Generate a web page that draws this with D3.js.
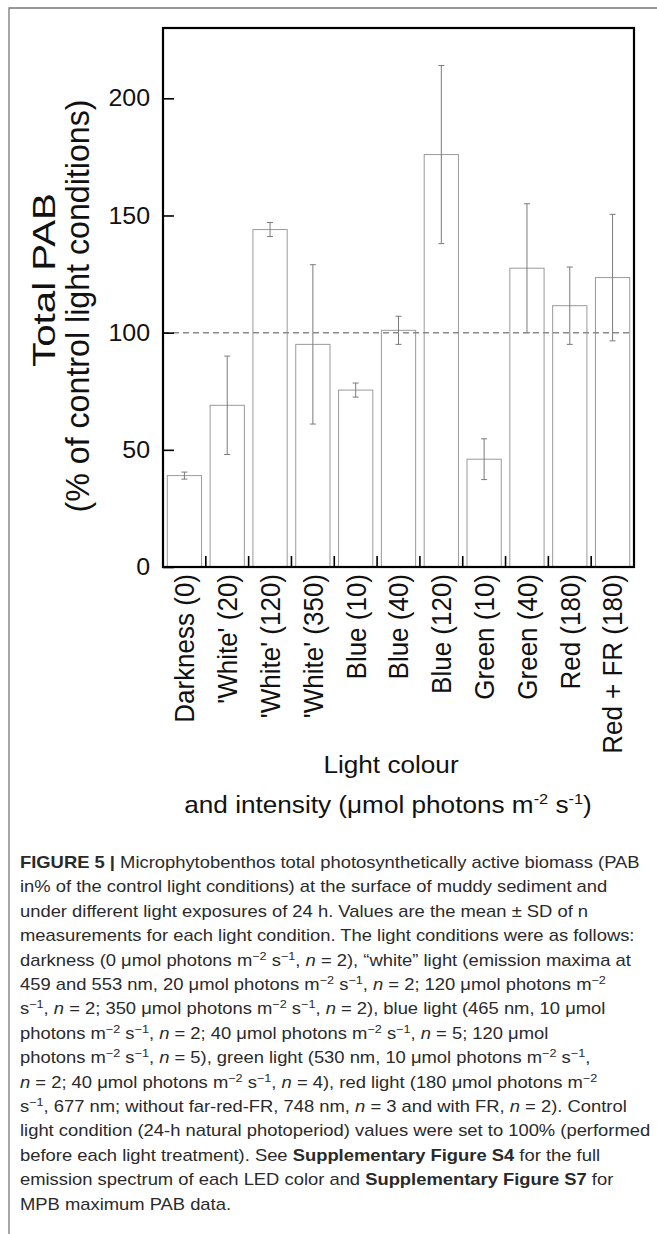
<!DOCTYPE html>
<html>
<head>
<meta charset="utf-8">
<script src="https://cdn.jsdelivr.net/npm/d3@7"></script>
<style>
  body { margin: 0; background: #fff; }
  text { font-family: "Liberation Sans", Arial, Helvetica, sans-serif; }
</style>
</head>
<body>
<div id="chart"></div>
<script>
// Light treatments and PAB values (% of control light conditions)
const categories = ["Darkness (0)", "'White' (20)", "'White' (120)", "'White' (350)",
    "Blue (10)", "Blue (40)", "Blue (120)", "Green (10)", "Green (40)",
    "Red (180)", "Red + FR (180)"];
const meanPAB = [39, 69, 144, 95, 75.5, 101, 176, 46, 127.5, 111.5, 123.5];
const sdPAB = [1.5, 21, 3, 34, 3, 6, 38, 8.7, 27.5, 16.5, 27];
const yTicks = [0, 50, 100, 150, 200];
const controlLevel = 100;

// caption lines (**bold**, _italic_, ^{superscript})
const caption = [
    "**FIGURE 5 |** Microphytobenthos total photosynthetically active biomass (PAB",
    "in% of the control light conditions) at the surface of muddy sediment and",
    "under different light exposures of 24 h. Values are the mean ± SD of n",
    "measurements for each light condition. The light conditions were as follows:",
    "darkness (0 μmol photons m^{−2} s^{−1}, _n_ = 2), “white” light (emission maxima at",
    "459 and 553 nm, 20 μmol photons m^{−2} s^{−1}, _n_ = 2; 120 μmol photons m^{−2}",
    "s^{−1}, _n_ = 2; 350 μmol photons m^{−2} s^{−1}, _n_ = 2), blue light (465 nm, 10 μmol",
    "photons m^{−2} s^{−1}, _n_ = 2; 40 μmol photons m^{−2} s^{−1}, _n_ = 5; 120 μmol",
    "photons m^{−2} s^{−1}, _n_ = 5), green light (530 nm, 10 μmol photons m^{−2} s^{−1},",
    "_n_ = 2; 40 μmol photons m^{−2} s^{−1}, _n_ = 4), red light (180 μmol photons m^{−2}",
    "s^{−1}, 677 nm; without far-red-FR, 748 nm, _n_ = 3 and with FR, _n_ = 2). Control",
    "light condition (24-h natural photoperiod) values were set to 100% (performed",
    "before each light treatment). See **Supplementary Figure S4** for the full",
    "emission spectrum of each LED color and **Supplementary Figure S7** for",
    "MPB maximum PAB data."
];

const width = 657;
const height = 1234;
const plot = { left: 163, top: 28, right: 634, bottom: 567 };

const svg = d3.select("#chart")
    .append("svg")
    .attr("width", width)
    .attr("height", height);

svg.append("rect").attr("width", width).attr("height", height).attr("fill", "#fff");

// outer figure box (open on the right and bottom)
svg.append("path")
    .attr("d", `M${width},8H9V${height}`)
    .attr("fill", "none")
    .attr("stroke", "#777")
    .attr("stroke-width", 1.3);

const x = d3.scaleBand()
    .domain(categories)
    .range([plot.left, plot.right])
    .paddingInner(0.2)
    .paddingOuter(0.1);

const y = d3.scaleLinear()
    .domain([0, 230])
    .range([plot.bottom, plot.top]);

// bars
svg.selectAll("rect.bar")
    .data(categories)
    .enter()
    .append("rect")
    .attr("class", "bar")
    .attr("x", d => x(d))
    .attr("y", (d, i) => y(meanPAB[i]))
    .attr("width", x.bandwidth())
    .attr("height", (d, i) => y(0) - y(meanPAB[i]))
    .attr("fill", "#fff")
    .attr("stroke", "#9a9a9a")
    .attr("stroke-width", 1);

// error bars
const cx = d => x(d) + x.bandwidth() / 2;
const err = svg.append("g").attr("stroke", "#7a7a7a").attr("stroke-width", 1);
categories.forEach((c, i) => {
    const lo = y(meanPAB[i] - sdPAB[i]);
    const hi = y(meanPAB[i] + sdPAB[i]);
    err.append("line").attr("x1", cx(c)).attr("x2", cx(c)).attr("y1", lo).attr("y2", hi);
    err.append("line").attr("x1", cx(c) - 3).attr("x2", cx(c) + 3).attr("y1", lo).attr("y2", lo);
    err.append("line").attr("x1", cx(c) - 3).attr("x2", cx(c) + 3).attr("y1", hi).attr("y2", hi);
});

// control level line
svg.append("line")
    .attr("x1", plot.left)
    .attr("x2", plot.right)
    .attr("y1", y(controlLevel))
    .attr("y2", y(controlLevel))
    .attr("stroke", "#8a8a8a")
    .attr("stroke-width", 1.5)
    .attr("stroke-dasharray", "6,4");

// y axis, ticks pointing inwards
const yAxis = svg.append("g")
    .attr("transform", `translate(${plot.left},0)`)
    .call(d3.axisLeft(y).tickValues(yTicks).tickSize(-11).tickPadding(12.5));
yAxis.select(".domain").remove();
yAxis.selectAll(".tick line").attr("stroke", "#000").attr("stroke-width", 1.6);
yAxis.selectAll(".tick text")
    .attr("font-size", 24)
    .attr("fill", "#111")
    .attr("font-family", "'Liberation Sans', Arial, sans-serif")
    .attr("transform", "scale(1.04,1)");

// x ticks between the bars
const boundaries = categories.slice(1).map(c => x(c) - x.step() * x.paddingInner() / 2);
svg.append("g")
    .selectAll("line")
    .data(boundaries)
    .enter()
    .append("line")
    .attr("x1", d => d)
    .attr("x2", d => d)
    .attr("y1", plot.bottom)
    .attr("y2", plot.bottom - 11)
    .attr("stroke", "#000")
    .attr("stroke-width", 1.6);

// x category labels
svg.append("g")
    .selectAll("text")
    .data(categories)
    .enter()
    .append("text")
    .attr("transform", d => `translate(${cx(d)},574) scale(1.08,1) rotate(-90)`)
    .attr("text-anchor", "end")
    .attr("dy", "0.35em")
    .attr("font-size", 26)
    .attr("fill", "#111")
    .text(d => d);

// plot frame
svg.append("rect")
    .attr("x", plot.left)
    .attr("y", plot.top)
    .attr("width", plot.right - plot.left)
    .attr("height", plot.bottom - plot.top)
    .attr("fill", "none")
    .attr("stroke", "#000")
    .attr("stroke-width", 2.2);

// y axis title
svg.append("text")
    .attr("transform", "translate(55,280) scale(1.03,1) rotate(-90)")
    .attr("text-anchor", "middle")
    .attr("font-size", 30)
    .attr("textLength", 174)
    .attr("lengthAdjust", "spacingAndGlyphs")
    .attr("fill", "#111")
    .text("Total PAB");
svg.append("text")
    .attr("transform", "translate(89,306) scale(1.03,1) rotate(-90)")
    .attr("text-anchor", "middle")
    .attr("font-size", 32)
    .attr("textLength", 413)
    .attr("lengthAdjust", "spacingAndGlyphs")
    .attr("fill", "#111")
    .text("(% of control light conditions)");

// x axis title
svg.append("text")
    .attr("transform", "translate(391,773) scale(1.09,1)")
    .attr("text-anchor", "middle")
    .attr("font-size", 24)
    .attr("fill", "#111")
    .text("Light colour");
const xt = svg.append("text")
    .attr("transform", "translate(388,813) scale(1.09,1)")
    .attr("text-anchor", "middle")
    .attr("font-size", 24)
    .attr("fill", "#111");
xt.append("tspan").text("and intensity (μmol photons m");
xt.append("tspan").attr("font-size", 15).attr("dy", -9).text("-2");
xt.append("tspan").attr("dy", 9).text(" s");
xt.append("tspan").attr("font-size", 15).attr("dy", -9).text("-1");
xt.append("tspan").attr("dy", 9).text(")");

// caption
function richLine(sel, line) {
    let raised = false;
    line.split(/(\*\*[^*]+\*\*|_[^_]+_|\^\{[^}]+\})/).filter(s => s.length).forEach(part => {
        const ts = sel.append("tspan");
        if (part.startsWith("**")) {
            ts.attr("font-weight", "bold").text(part.slice(2, -2));
        } else if (part.startsWith("_")) {
            ts.attr("font-style", "italic").text(part.slice(1, -1));
        } else if (part.startsWith("^{")) {
            ts.attr("font-size", 11).attr("dy", -6).text(part.slice(2, -1));
            raised = true;
            return;
        } else {
            ts.text(part);
        }
        if (raised) { ts.attr("dy", 6); raised = false; }
    });
}

const capLines = svg.append("g")
    .selectAll("text")
    .data(caption)
    .enter()
    .append("text")
    .attr("font-size", 16)
    .attr("fill", "#2a2a2a")
    .each(function (d) { richLine(d3.select(this), d); });

// squeeze the caption so its lines end where the reference lines end
const nodes = capLines.nodes();
const sx = (586 / nodes[1].getComputedTextLength() + 633 / nodes[11].getComputedTextLength()) / 2;
capLines.attr("transform", (d, i) => `translate(20,${868 + i * 24.4}) scale(${sx},1)`);
</script>
</body>
</html>
